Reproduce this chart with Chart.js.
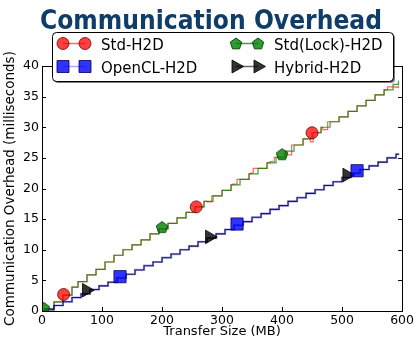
<!DOCTYPE html>
<html>
<head>
<meta charset="utf-8">
<script src="https://cdn.jsdelivr.net/npm/chart.js@4.4.1/dist/chart.umd.min.js"></script>
<style>
  html, body { margin: 0; padding: 0; background: #fff; }
  canvas { display: block; }
</style>
</head>
<body>
<canvas id="chart" width="416" height="340" style="width:416px;height:340px"></canvas>
<script>
// ---- data (transfer size in MB -> time in ms) ----
const stdLockX = [0, 5, 20, 35, 50, 60, 75, 90, 105, 120, 135, 150, 165, 180, 195, 210, 225, 240, 255, 270, 285, 300, 315, 330, 345, 360, 375, 390, 405, 420, 435, 450, 465, 480, 495, 510, 525, 540, 555, 570, 585, 594];
const stdLockY = [0, 0.4, 1.5, 2.6, 3.9, 4.8, 5.9, 6.8, 8.0, 9.1, 10.0, 10.8, 11.6, 12.6, 13.4, 14.3, 15.2, 16.1, 17.0, 17.9, 18.8, 19.7, 20.6, 21.5, 22.4, 23.3, 24.2, 25.1, 26.1, 27.1, 28.1, 29.1, 30.0, 30.9, 31.7, 32.6, 33.5, 34.4, 35.3, 36.1, 37.0, 37.6];

const stdX = [0, 5, 20, 35, 50, 60, 75, 90, 105, 120, 135, 150, 165, 180, 195, 210, 225, 240, 255, 270, 276, 283, 300, 315, 318, 325, 345, 348, 352, 360, 375, 380, 387, 405, 408, 416, 435, 447, 452, 465, 468, 476, 495, 510, 525, 540, 555, 570, 576, 590, 594];
const stdY = [0, 0.4, 1.5, 2.6, 3.9, 4.8, 5.9, 6.8, 8.0, 9.1, 10.0, 10.8, 11.6, 12.6, 13.4, 14.3, 15.2, 16.1, 17.0, 17.9, 17.8, 18.8, 19.7, 20.6, 20.7, 21.5, 22.4, 22.5, 23.3, 23.3, 24.2, 24.4, 25.1, 26.1, 25.5, 27.1, 28.1, 27.6, 29.1, 30.0, 29.6, 30.9, 31.7, 32.6, 33.5, 34.4, 35.3, 36.1, 36.6, 36.5, 36.8];

const openclX = [0, 5, 20, 35, 50, 65, 80, 95, 110, 125, 140, 155, 170, 185, 200, 215, 230, 245, 260, 275, 290, 305, 320, 335, 350, 365, 380, 395, 410, 425, 440, 455, 470, 485, 500, 515, 530, 545, 560, 575, 590, 594];
const openclY = [0, 0.2, 0.9, 1.5, 2.2, 2.8, 3.5, 4.1, 4.7, 5.4, 6.0, 6.7, 7.4, 8.0, 8.7, 9.3, 10.0, 10.6, 11.3, 11.9, 12.6, 13.3, 14.0, 14.6, 15.3, 15.9, 16.6, 17.2, 17.9, 18.5, 19.2, 19.8, 20.5, 21.1, 21.8, 22.5, 23.1, 23.7, 24.3, 25.0, 25.6, 25.7];

const hybridX = [0, 5, 20, 35, 50, 65, 80, 95, 110, 125, 140, 155, 170, 185, 200, 215, 230, 245, 260, 275, 290, 305, 320, 335, 350, 365, 380, 395, 410, 425, 440, 455, 470, 485, 500, 515, 530, 545, 560, 575, 590, 594];
const hybridY = [0, 0.2, 0.9, 1.5, 2.2, 2.8, 3.5, 4.1, 4.7, 5.4, 6.0, 6.7, 7.4, 8.0, 8.7, 9.3, 10.0, 10.6, 11.3, 11.9, 12.6, 13.3, 14.0, 14.6, 15.3, 15.9, 16.6, 17.2, 17.9, 18.5, 19.2, 19.8, 20.5, 21.1, 21.8, 22.5, 23.1, 23.7, 24.3, 25.0, 25.6, 25.7];

// markers
const stdMarkX = [36, 257, 450];
const stdMarkY = [2.7, 17.0, 29.1];
const stdLockMarkX = [3, 200, 400];
const stdLockMarkY = [0.5, 13.7, 25.6];
const openclMarkX = [130, 325, 525];
const openclMarkY = [5.6, 14.2, 22.9];
const hybridMarkX = [74, 279, 508];
const hybridMarkY = [3.4, 12.1, 22.2];

const seriesNames = ['Std-H2D', 'Std(Lock)-H2D', 'OpenCL-H2D', 'Hybrid-H2D'];
const xTicks = [0, 100, 200, 300, 400, 500, 600];
const yTicks = [0, 5, 10, 15, 20, 25, 30, 35, 40];

const pts = (xs, ys) => xs.map((x, i) => ({ x: x, y: ys[i] }));
const FONT = '"DejaVu Sans", "Liberation Sans", sans-serif';

// pentagon marker (no built-in pentagon style)
function makePentagon(r, fill, stroke) {
    const c = document.createElement('canvas');
    const s = Math.ceil(r * 2 + 4);
    c.width = s; c.height = s;
    const g = c.getContext('2d');
    pentagonPath(g, s / 2, s / 2 + 0.5, r);
    g.fillStyle = fill; g.fill();
    g.strokeStyle = stroke; g.lineWidth = 1; g.stroke();
    return c;
}
function pentagonPath(g, cx, cy, r) {
    g.beginPath();
    for (let i = 0; i < 5; i++) {
        const a = -Math.PI / 2 + i * 2 * Math.PI / 5;
        const px = cx + r * Math.cos(a), py = cy + r * Math.sin(a);
        if (i === 0) g.moveTo(px, py); else g.lineTo(px, py);
    }
    g.closePath();
}

const styles = {
    std:    { line: 'rgba(255,0,0,0.6)',  fill: 'rgba(255,0,0,0.75)', edge: 'rgba(110,0,0,0.8)' },
    lock:   { line: 'rgba(0,128,0,0.75)', fill: 'rgba(0,128,0,0.8)',  edge: 'rgba(0,60,0,0.9)' },
    opencl: { line: 'rgba(0,0,255,0.35)', fill: 'rgba(0,0,255,0.8)',  edge: 'rgba(0,0,90,0.8)' },
    hybrid: { line: 'rgba(0,0,40,0.85)',  fill: 'rgba(0,0,0,0.8)',    edge: 'rgba(0,0,0,0.8)' }
};
const pentagonImg = makePentagon(6, styles.lock.fill, styles.lock.edge);

// legend, title, frame with inward ticks
const extrasPlugin = {
    id: 'extras',
    afterDraw(chart) {
        const ctx = chart.ctx;
        const a = chart.chartArea;
        const xs = chart.scales.x, ys = chart.scales.y;

        // frame + inward ticks
        ctx.save();
        ctx.strokeStyle = '#000';
        ctx.lineWidth = 1;
        ctx.strokeRect(Math.round(a.left) + 0.5, Math.round(a.top) + 0.5, Math.round(a.right - a.left), Math.round(a.bottom - a.top));
        ctx.beginPath();
        xTicks.forEach(v => {
            const px = Math.round(xs.getPixelForValue(v)) + 0.5;
            ctx.moveTo(px, a.bottom); ctx.lineTo(px, a.bottom - 4);
            ctx.moveTo(px, a.top); ctx.lineTo(px, a.top + 4);
        });
        yTicks.forEach(v => {
            const py = Math.round(ys.getPixelForValue(v)) + 0.5;
            ctx.moveTo(a.left, py); ctx.lineTo(a.left + 4, py);
            ctx.moveTo(a.right, py); ctx.lineTo(a.right - 4, py);
        });
        ctx.stroke();
        ctx.restore();

        // title
        ctx.save();
        ctx.font = 'bold 24px ' + FONT;
        ctx.fillStyle = '#0f3c68';
        ctx.textBaseline = 'alphabetic';
        const title = 'Communication Overhead';
        const tw = ctx.measureText(title).width;
        ctx.translate(211, 28.5);
        ctx.scale(342 / tw, 1.12);
        ctx.textAlign = 'center';
        ctx.fillText(title, 0, 0);
        ctx.restore();

        // legend box with shadow
        const L = 52, T = 32, W = 341, H = 49;
        ctx.save();
        ctx.fillStyle = 'rgba(0,0,0,0.5)';
        roundRect(ctx, L + 2, T + 2, W, H, 4); ctx.fill();
        ctx.fillStyle = '#fff';
        roundRect(ctx, L, T, W, H, 4); ctx.fill();
        ctx.strokeStyle = '#000'; ctx.lineWidth = 1;
        roundRect(ctx, L + 0.5, T + 0.5, W, H, 4); ctx.stroke();

        const items = [
            { name: seriesNames[0], st: styles.std,    kind: 'circle',   x: 63,  y: 43.5 },
            { name: seriesNames[1], st: styles.lock,   kind: 'pentagon', x: 236, y: 43.5 },
            { name: seriesNames[2], st: styles.opencl, kind: 'rect',     x: 63,  y: 66.5 },
            { name: seriesNames[3], st: { line: 'rgba(0,0,0,0.6)', fill: styles.hybrid.fill, edge: styles.hybrid.edge }, kind: 'triangle', x: 236, y: 66.5 }
        ];
        items.forEach(it => {
            ctx.strokeStyle = it.st.line; ctx.lineWidth = 1.5;
            ctx.beginPath(); ctx.moveTo(it.x, it.y); ctx.lineTo(it.x + 22, it.y); ctx.stroke();
            drawMarker(ctx, it.kind, it.x, it.y, it.st);
            drawMarker(ctx, it.kind, it.x + 22, it.y, it.st);
            ctx.save();
            ctx.font = '15px ' + FONT;
            ctx.fillStyle = '#000';
            ctx.textAlign = 'left';
            ctx.textBaseline = 'alphabetic';
            ctx.translate(it.x + 38, it.y + 6);
            ctx.scale(1, 1.08);
            ctx.fillText(it.name, 0, 0);
            ctx.restore();
        });
        ctx.restore();
    }
};

function roundRect(ctx, x, y, w, h, r) {
    ctx.beginPath();
    ctx.moveTo(x + r, y);
    ctx.lineTo(x + w - r, y); ctx.quadraticCurveTo(x + w, y, x + w, y + r);
    ctx.lineTo(x + w, y + h - r); ctx.quadraticCurveTo(x + w, y + h, x + w - r, y + h);
    ctx.lineTo(x + r, y + h); ctx.quadraticCurveTo(x, y + h, x, y + h - r);
    ctx.lineTo(x, y + r); ctx.quadraticCurveTo(x, y, x + r, y);
    ctx.closePath();
}

function drawMarker(ctx, kind, x, y, st) {
    ctx.save();
    ctx.fillStyle = st.fill; ctx.strokeStyle = st.edge; ctx.lineWidth = 1;
    ctx.beginPath();
    if (kind === 'circle') {
        ctx.arc(x, y, 6, 0, Math.PI * 2);
    } else if (kind === 'rect') {
        ctx.rect(x - 6, y - 6, 12, 12);
    } else if (kind === 'triangle') {
        ctx.moveTo(x + 7.5, y); ctx.lineTo(x - 4, y - 6.5); ctx.lineTo(x - 4, y + 6.5); ctx.closePath();
    } else {
        pentagonPath(ctx, x, y + 0.5, 6);
    }
    ctx.fill(); ctx.stroke();
    ctx.restore();
}

const lineDs = (label, xs, ys, st, width, order) => ({
    label: label, data: pts(xs, ys), showLine: true, stepped: true,
    borderColor: st.line, borderWidth: width, pointRadius: 0, fill: false, order: order
});
const markDs = (label, xs, ys, st, style, radius, rotation) => ({
    label: label, data: pts(xs, ys), showLine: false,
    pointStyle: style, pointRadius: radius, pointRotation: rotation || 0,
    backgroundColor: st.fill, borderColor: st.edge, borderWidth: 1, order: 0
});

new Chart(document.getElementById('chart'), {
    type: 'scatter',
    data: {
        datasets: [
            lineDs(seriesNames[0], stdX, stdY, styles.std, 1.2, 5),
            lineDs(seriesNames[1], stdLockX, stdLockY, styles.lock, 1.2, 4),
            lineDs(seriesNames[2], openclX, openclY, styles.opencl, 2.2, 3),
            lineDs(seriesNames[3], hybridX, hybridY, styles.hybrid, 1.1, 2),
            markDs(seriesNames[0] + ' markers', stdMarkX, stdMarkY, styles.std, 'circle', 6),
            markDs(seriesNames[1] + ' markers', stdLockMarkX, stdLockMarkY, styles.lock, pentagonImg, 6),
            markDs(seriesNames[2] + ' markers', openclMarkX, openclMarkY, styles.opencl, 'rect', 8.6),
            markDs(seriesNames[3] + ' markers', hybridMarkX, hybridMarkY, styles.hybrid, 'triangle', 7.8, 90)
        ]
    },
    options: {
        responsive: false,
        animation: false,
        devicePixelRatio: 1,
        layout: { padding: { top: 66, right: 13, left: 0, bottom: 0 } },
        plugins: { legend: { display: false }, tooltip: { enabled: false } },
        scales: {
            x: {
                type: 'linear', min: 0, max: 600,
                afterBuildTicks: s => { s.ticks = xTicks.map(v => ({ value: v })); },
                afterFit: s => { s.height = 29; },
                grid: { display: false, drawTicks: false },
                border: { display: false },
                ticks: { padding: 2, color: '#000', font: { family: FONT, size: 12.5 }, maxRotation: 0 },
                title: { display: true, text: 'Transfer Size (MB)', color: '#000', font: { family: FONT, size: 13 }, padding: { top: 0, bottom: 1 } }
            },
            y: {
                type: 'linear', min: 0, max: 40,
                afterBuildTicks: s => { s.ticks = yTicks.map(v => ({ value: v })); },
                afterFit: s => { s.width = 42; },
                grid: { display: false, drawTicks: false },
                border: { display: false },
                ticks: { padding: 3, color: '#000', font: { family: FONT, size: 12.5 } },
                title: { display: true, text: 'Communication Overhead (milliseconds)', color: '#000', font: { family: FONT, size: 13.5 }, padding: { top: 2, bottom: 0 } }
            }
        }
    },
    plugins: [extrasPlugin]
});
</script>
</body>
</html>
